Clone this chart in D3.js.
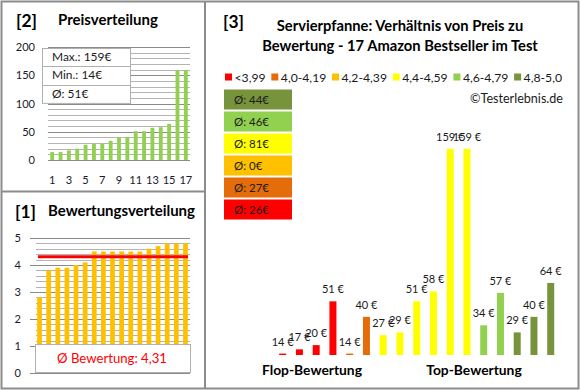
<!DOCTYPE html>
<html><head><meta charset="utf-8">
<script src="https://cdn.jsdelivr.net/npm/d3@7"></script>
<style>body{margin:0;background:#fff} svg{display:block;font-family:Lato,'Open Sans',sans-serif}</style>
</head><body><svg width="580" height="390"></svg>
<script>
// ---- data ----
const ranks = [1,2,3,4,5,6,7,8,9,10,11,12,13,14,15,16,17];
const rankTickLabels = [1,3,5,7,9,11,13,15,17];
const pricesSorted = [14,14,17,20,27,29,29,34,40,40,51,51,57,58,64,159,159];
const ratingsSorted = [2.8,3.8,3.9,3.9,4.0,4.1,4.5,4.5,4.5,4.5,4.5,4.5,4.6,4.7,4.8,4.8,4.8];
const priceTicks = [0,50,100,150,200];
const ratingTicks = [0,1,2,3,4,5];
const priceStats = ["Max.: 159€","Min.: 14€","Ø: 51€"];
const ratingAverage = 4.31;
const ratingAverageLabel = "Ø Bewertung: 4,31";
const productPrices = [14,17,20,51,14,40,27,29,51,58,159,159,34,57,29,40,64];
const productRatings = [2.8,3.8,3.9,3.9,4.0,4.1,4.5,4.5,4.5,4.5,4.5,4.5,4.6,4.7,4.8,4.8,4.8];
const classLabels = ["<3,99","4,0-4,19","4,2-4,39","4,4-4,59","4,6-4,79","4,8-5,0"];
const classColors = ["#FF0000","#E46C0A","#FFC000","#FFFF00","#92D050","#77933C"];
const classThresholds = [4.0,4.2,4.4,4.6,4.8];
const classAverages = [26,27,0,81,46,44];
const titleLines = ["Servierpfanne: Verhältnis von Preis zu","Bewertung - 17 Amazon Bestseller im Test"];

const svg = d3.select("svg");
const grey = "#8c8c8c";
const ink = "#1a1a1a";

// font size so that `sample` renders `target` px wide
function fitSize(sample, target, weight){
  const t = svg.append("text").attr("font-size",20).attr("font-weight",weight||"normal").text(sample);
  const w = t.node().getComputedTextLength(); t.remove();
  return 20*target/w;
}

function grid(g, y, values, x0, x1, isMajor){
  g.selectAll(null).data(values).join("line")
    .attr("x1",x0).attr("x2",x1)
    .attr("y1",d=>Math.round(y(d))+0.5).attr("y2",d=>Math.round(y(d))+0.5)
    .attr("stroke",d=>isMajor(d)?"#8a8a8a":"#b4b4b4").attr("stroke-width",1);
}
const axisFs = fitSize("200", 19.3);
const headFs = fitSize("Bewertungsverteilung", 147, "bold");
const brFs = fitSize("[2]", 21, "bold");

// ---- panel [2] Preisverteilung ----
{
  const g = svg.append("g");
  const x = d3.scaleBand().domain(ranks).range([48,190]);
  const y = d3.scaleLinear().domain([0,200]).range([160,47]);
  grid(g, y, d3.range(0,201,10), 48, 190, d=>d%50===0);
  g.append("g").attr("transform","translate(48,0)")
    .call(d3.axisLeft(y).tickValues(priceTicks).tickSize(0).tickPadding(13))
    .call(a=>a.select(".domain").remove())
    .selectAll("text").attr("font-size",axisFs).attr("fill","#1a1a2a").attr("font-family","Lato");
  g.selectAll(null).data(pricesSorted).join("rect")
    .attr("x",(d,i)=>x(ranks[i])+x.bandwidth()*0.27).attr("width",x.bandwidth()*0.46)
    .attr("y",d=>y(d)).attr("height",d=>y(0)-y(d)).attr("fill","#92D050");
  g.append("g").attr("transform","translate(0,160)")
    .call(d3.axisBottom(x).tickValues(rankTickLabels).tickSize(0).tickPadding(16))
    .call(a=>a.select(".domain").remove())
    .selectAll("text").attr("font-size",axisFs).attr("fill","#1a1a2a").attr("font-family","Lato");
  // stats box
  const bx=42, by=48, bw=88, rh=18.3;
  g.append("rect").attr("x",bx+0.5).attr("y",by+0.5).attr("width",bw).attr("height",rh*3)
    .attr("fill","#fff").attr("stroke","#b0b0b0");
  g.selectAll(null).data(priceStats.slice(1)).join("line")
    .attr("x1",bx).attr("x2",bx+bw).attr("y1",(d,i)=>Math.round(by+rh*(i+1))+0.5).attr("y2",(d,i)=>Math.round(by+rh*(i+1))+0.5)
    .attr("stroke","#b0b0b0");
  const statFs = fitSize(priceStats[0], 59.4);
  g.selectAll(null).data(priceStats).join("text")
    .attr("x",bx+10).attr("y",(d,i)=>by+rh*i+rh/2+4).attr("font-size",statFs).attr("fill",ink).text(d=>d);
  g.append("text").attr("x",16).attr("y",27).attr("font-size",brFs).attr("font-weight","bold").text("[2]");
  g.append("text").attr("x",58).attr("y",25).attr("font-size",headFs).attr("font-weight","bold").text("Preisverteilung");
}

// ---- panel [1] Bewertungsverteilung ----
{
  const g = svg.append("g");
  const x = d3.scaleBand().domain(ranks).range([35,190]);
  const y = d3.scaleLinear().domain([0,5]).range([373,238]);
  grid(g, y, d3.range(0,26).map(i=>i/5), 36, 190, d=>Math.abs(d-Math.round(d))<1e-6);
  g.selectAll(null).data(ratingTicks).join("line")
    .attr("x1",30).attr("x2",36).attr("y1",d=>Math.round(y(d))+0.5).attr("y2",d=>Math.round(y(d))+0.5).attr("stroke","#8a8a8a");
  g.append("g").attr("transform","translate(36,0)")
    .call(d3.axisLeft(y).tickValues(ratingTicks).tickFormat(d3.format("d")).tickSize(0).tickPadding(15))
    .call(a=>a.select(".domain").remove())
    .selectAll("text").attr("font-size",axisFs).attr("fill","#1a1a2a").attr("font-family","Lato");
  g.selectAll(null).data(ratingsSorted).join("rect")
    .attr("x",(d,i)=>x(ranks[i])+x.bandwidth()*0.24).attr("width",x.bandwidth()*0.52)
    .attr("y",d=>y(d)).attr("height",d=>y(0)-y(d)).attr("fill","#FFC000");
  g.append("line").attr("x1",38).attr("x2",188).attr("y1",y(ratingAverage)).attr("y2",y(ratingAverage))
    .attr("stroke","#FF0000").attr("stroke-width",3);
  g.append("rect").attr("x",35.5).attr("y",344.5).attr("width",155).attr("height",28)
    .attr("fill","#fff").attr("stroke","#b0b0b0");
  g.append("text").attr("x",112).attr("y",363).attr("text-anchor","middle").attr("font-size",fitSize(ratingAverageLabel,110))
    .attr("fill","#FF0000").text(ratingAverageLabel);
  g.append("text").attr("x",15).attr("y",218).attr("font-size",brFs).attr("font-weight","bold").text("[1]");
  g.append("text").attr("x",48).attr("y",216).attr("font-size",headFs).attr("font-weight","bold").text("Bewertungsverteilung");
}

// ---- panel [3] ----
{
  const g = svg.append("g");
  const cls = r => d3.bisectRight(classThresholds, r);
  const x = d3.scaleBand().domain(d3.range(productPrices.length)).range([274.3,559.1]);
  const y = d3.scaleLinear().domain([13,159]).range([355,148.8]);
  const bw = 7;
  g.selectAll(null).data(productPrices).join("rect")
    .attr("x",(d,i)=>x(i)+x.bandwidth()/2-bw/2).attr("width",bw)
    .attr("y",d=>y(d)).attr("height",d=>y(13)-y(d))
    .attr("fill",(d,i)=>classColors[cls(productRatings[i])]);
  const lblFs = fitSize("14 €", 22);
  g.selectAll(null).data(productPrices).join("text")
    .attr("x",(d,i)=>x(i)+x.bandwidth()/2).attr("y",d=>y(d)-8)
    .attr("text-anchor","middle").attr("font-size",lblFs).attr("fill",ink)
    .text(d=>d+" €");
  const catFs = fitSize("Flop-Bewertung", 100, "bold");
  g.append("text").attr("x",312).attr("y",375).attr("text-anchor","middle").attr("font-size",catFs).attr("font-weight","bold").text("Flop-Bewertung");
  g.append("text").attr("x",474).attr("y",375).attr("text-anchor","middle").attr("font-size",catFs).attr("font-weight","bold").text("Top-Bewertung");
  g.append("text").attr("x",223).attr("y",28).attr("font-size",brFs).attr("font-weight","bold").text("[3]");
  const titleFs = fitSize(titleLines[1], 276, "bold");
  g.selectAll(null).data(titleLines).join("text")
    .attr("x",400).attr("y",(d,i)=>31+i*20).attr("text-anchor","middle")
    .attr("font-size",titleFs).attr("font-weight","bold").text(d=>d);
  // legend
  const legFs = fitSize("4,0-4,19", 45.5);
  const lg = g.append("g");
  const items = lg.selectAll(null).data(classLabels).join("g");
  items.append("rect").attr("width",7).attr("height",7).attr("y",73.5).attr("fill",(d,i)=>classColors[i]);
  items.append("text").attr("x",9.5).attr("y",81.5).attr("font-size",legFs).attr("fill",ink).text(d=>d);
  const widths = [];
  items.each(function(){ widths.push(this.getBBox().width); });
  const start=225, end=562;
  const gap = (end-start-d3.sum(widths))/(widths.length-1);
  let cx = start;
  items.each(function(d,i){ d3.select(this).attr("transform",`translate(${cx},0)`); cx += widths[i]+gap; });
  g.append("text").attr("x",563).attr("y",103).attr("text-anchor","end").attr("font-size",fitSize("©Testerlebnis.de",93)).attr("fill",ink).text("©Testerlebnis.de");
  // average boxes (top: best class)
  const order = d3.range(classLabels.length).reverse();
  g.selectAll(null).data(order).join("rect")
    .attr("x",224).attr("y",(d,i)=>89.5+i*22).attr("width",68).attr("height",20)
    .attr("fill",d=>classColors[d]);
  const boxFs = fitSize("Ø: 44€", 35);
  g.selectAll(null).data(order).join("text")
    .attr("x",234).attr("y",(d,i)=>89.5+i*22+14.5).attr("font-size",boxFs).attr("fill",ink)
    .text(d=>"Ø: "+classAverages[d]+"€");
}

// ---- borders ----
svg.append("rect").attr("x",1.5).attr("y",1.5).attr("width",577).attr("height",387)
  .attr("fill","none").attr("stroke",grey).attr("stroke-width",2);
svg.append("line").attr("x1",205).attr("x2",205).attr("y1",1).attr("y2",389).attr("stroke",grey).attr("stroke-width",2);
svg.append("line").attr("x1",1).attr("x2",205).attr("y1",191.5).attr("y2",191.5).attr("stroke",grey).attr("stroke-width",2);
</script></body></html>
